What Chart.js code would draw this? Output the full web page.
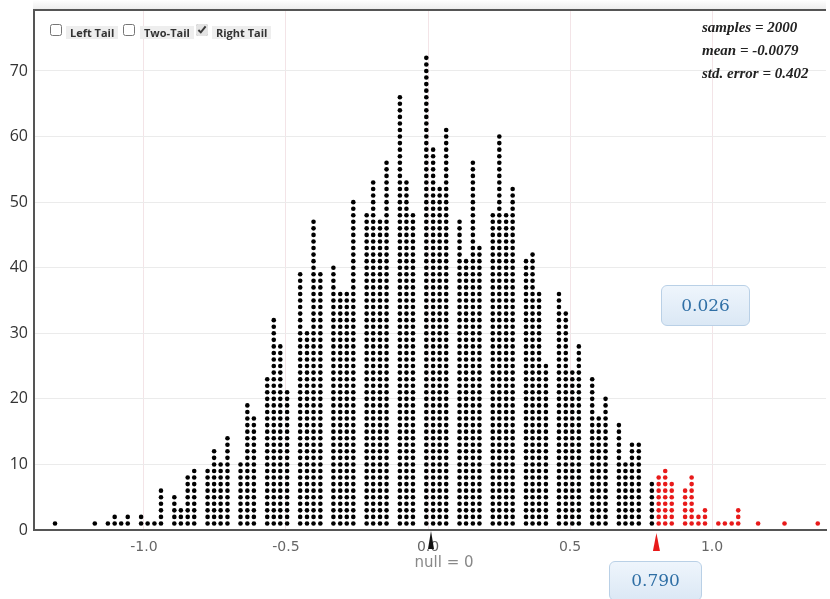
<!DOCTYPE html>
<html>
<head>
<meta charset="utf-8">
<script src="https://cdn.jsdelivr.net/npm/chart.js@4.4.1/dist/chart.umd.min.js"></script>
<style>
  body { margin: 0; background: #fff; }
  #wrap { position: relative; width: 830px; height: 599px; overflow: hidden; }
  #dotChart { position: absolute; left: 0; top: 0; }
  .tail { position: absolute; top: 24px; height: 14px; font: bold 11px "Open Sans", sans-serif; color: #333; }
  .tail input { position: absolute; top: 0; width: 12px; height: 12px; margin: 0; accent-color: #e4e4e4; }
  .tail span { position: absolute; top: 2px; padding: 0 4px; line-height: 13px; background: #eeeeee; white-space: nowrap; }
  #stats { position: absolute; left: 702px; top: 16px; font: bold italic 15px "Liberation Serif", serif; line-height: 23px; color: #222; }
  .pbox { position: absolute; box-sizing: border-box; border: 1px solid #b9d0e6; border-radius: 6px;
          background: linear-gradient(#eef5fc, #dbe8f5); color: #2f6fa5; font: 17px "DejaVu Serif", serif;
          text-align: center; }
</style>
</head>
<body>
<div id="wrap">
  <canvas id="dotChart" width="830" height="599"></canvas>
  <div class="tail" style="left:50px"><input type="checkbox"><span style="left:16px">Left Tail</span></div>
  <div class="tail" style="left:123px"><input type="checkbox"><span style="left:17px">Two-Tail</span></div>
  <div class="tail" style="left:196px"><input type="checkbox" checked><span style="left:16px">Right Tail</span></div>
  <div id="stats"></div>
  <div id="tailBox" class="pbox" style="left:661px; top:285px; width:89px; height:41px; line-height:39px;"></div>
  <div id="obsBox" class="pbox" style="top:561px; width:93px; height:40px; line-height:37px;"></div>
</div>
<script>
// one column per bin of the dot plot: bin value and number of stacked dots
const columnX = [
  -1.313, -1.173, -1.127, -1.103, -1.080, -1.057, -1.010, -0.987, -0.963, -0.940,
  -0.893, -0.870, -0.846, -0.823, -0.776, -0.753, -0.730, -0.706, -0.660, -0.636,
  -0.613, -0.566, -0.543, -0.520, -0.496, -0.450, -0.426, -0.403, -0.379, -0.333,
  -0.309, -0.286, -0.263, -0.216, -0.193, -0.169, -0.146, -0.099, -0.076, -0.053,
  -0.006, 0.018, 0.041, 0.064, 0.111, 0.134, 0.158, 0.181, 0.228, 0.251,
  0.275, 0.298, 0.345, 0.368, 0.391, 0.415, 0.461, 0.485, 0.508, 0.531,
  0.578, 0.601, 0.625, 0.672, 0.695, 0.718, 0.742, 0.788, 0.812, 0.835,
  0.858, 0.905, 0.928, 0.952, 0.975, 1.022, 1.045, 1.069, 1.092, 1.162,
  1.255, 1.372
];
const columnCount = [
  1, 1, 1, 2, 1, 2, 2, 1, 1, 6,
  5, 3, 8, 9, 9, 12, 10, 14, 10, 19,
  17, 23, 32, 28, 21, 39, 30, 47, 39, 40,
  36, 36, 50, 48, 53, 47, 56, 66, 53, 48,
  72, 58, 52, 61, 47, 41, 56, 43, 48, 60,
  48, 52, 41, 42, 36, 25, 36, 33, 24, 28,
  23, 17, 20, 16, 10, 13, 13, 7, 8, 9,
  7, 6, 8, 2, 3, 1, 1, 1, 3, 1,
  1, 1
];
const xTickValues = [-1.0, -0.5, 0.0, 0.5, 1.0];
const yTickValues = [0, 10, 20, 30, 40, 50, 60, 70];

const nullValue = 0;
const observedValue = 0.79;
const tailProportion = 0.026;
const sampleCount = 2000;
const meanValue = -0.0079;
const stdError = 0.402;

const X_MIN = -1.387, X_MAX = 1.401;
const Y_MAX = 79.3;

document.getElementById('stats').innerHTML =
  'samples = ' + sampleCount + '<br>mean = ' + meanValue + '<br>std. error = ' + stdError;
document.getElementById('tailBox').textContent = tailProportion.toFixed(3);
document.getElementById('obsBox').textContent = observedValue.toFixed(3);

// stack the dots of every column, red in the right tail
const blackDots = [];
const redDots = [];
columnX.forEach((x, i) => {
  const target = x >= observedValue ? redDots : blackDots;
  for (let k = 1; k <= columnCount[i]; k++) {
    target.push({ x: x, y: k });
  }
});

function drawMarker(ctx, x, tipY, baseY, halfWidth, color) {
  ctx.beginPath();
  ctx.moveTo(x, tipY);
  ctx.lineTo(x + halfWidth, baseY);
  ctx.lineTo(x - halfWidth, baseY);
  ctx.closePath();
  ctx.fillStyle = color;
  ctx.fill();
}

const overlayPlugin = {
  id: 'overlayPlugin',
  beforeDraw(chart) {
    const ctx = chart.ctx;
    const area = chart.chartArea;
    ctx.save();
    const g = ctx.createLinearGradient(0, 0, 0, area.top);
    g.addColorStop(0, '#ffffff');
    g.addColorStop(1, '#ececec');
    ctx.fillStyle = g;
    ctx.fillRect(area.left - 1, 0, area.right - area.left + 1, area.top);
    ctx.restore();
  },
  afterDraw(chart) {
    const ctx = chart.ctx;
    const area = chart.chartArea;
    const xScale = chart.scales.x;
    ctx.save();

    // top frame line
    ctx.strokeStyle = '#555';
    ctx.lineWidth = 2;
    ctx.beginPath();
    ctx.moveTo(area.left - 1, area.top);
    ctx.lineTo(area.right, area.top);
    ctx.stroke();

    // null marker and label
    const nullX = xScale.getPixelForValue(nullValue) + 3;
    drawMarker(ctx, nullX, area.bottom + 1, area.bottom + 19, 3, '#111');
    ctx.fillStyle = '#888';
    ctx.font = '15px "DejaVu Sans", sans-serif';
    ctx.textAlign = 'center';
    ctx.textBaseline = 'middle';
    ctx.fillText('null = ' + nullValue, nullX + 13, 563);

    // observed statistic marker
    const obsX = xScale.getPixelForValue(observedValue) + 4;
    drawMarker(ctx, obsX, area.bottom + 3, area.bottom + 21, 3.5, '#e81a1a');
    ctx.restore();

    const box = document.getElementById('obsBox');
    box.style.left = Math.round(obsX - 47) + 'px';
  }
};

new Chart(document.getElementById('dotChart').getContext('2d'), {
  type: 'scatter',
  data: {
    datasets: [
      { data: blackDots, backgroundColor: '#000', pointRadius: 2.3, borderWidth: 0 },
      { data: redDots, backgroundColor: '#e81a1a', pointRadius: 2.3, borderWidth: 0 }
    ]
  },
  options: {
    responsive: false,
    animation: false,
    events: [],
    layout: { padding: { top: 10, right: 0, left: 0, bottom: 0 } },
    plugins: {
      legend: { display: false },
      tooltip: { enabled: false }
    },
    scales: {
      x: {
        type: 'linear',
        min: X_MIN,
        max: X_MAX,
        afterBuildTicks: (scale) => { scale.ticks = xTickValues.map(v => ({ value: v })); },
        afterFit: (scale) => {
          scale.height = 69;
          scale.paddingLeft = 0;
          scale.paddingRight = 0;
        },
        ticks: {
          callback: (v) => v.toFixed(1),
          color: '#666',
          font: { family: 'DejaVu Sans', size: 14 },
          padding: 9,
          maxRotation: 0,
          autoSkip: false
        },
        grid: { color: '#f3e4e7', drawTicks: false },
        border: { color: '#555', width: 2 }
      },
      y: {
        min: 0,
        max: Y_MAX,
        afterBuildTicks: (scale) => { scale.ticks = yTickValues.map(v => ({ value: v })); },
        afterFit: (scale) => {
          scale.width = 34;
          scale.paddingTop = 0;
          scale.paddingBottom = 0;
        },
        ticks: {
          color: '#333',
          font: { family: 'Open Sans', size: 16 },
          padding: 6
        },
        grid: { color: '#ebebeb', drawTicks: false },
        border: { color: '#555', width: 2 }
      }
    }
  },
  plugins: [overlayPlugin]
});
</script>
</body>
</html>
